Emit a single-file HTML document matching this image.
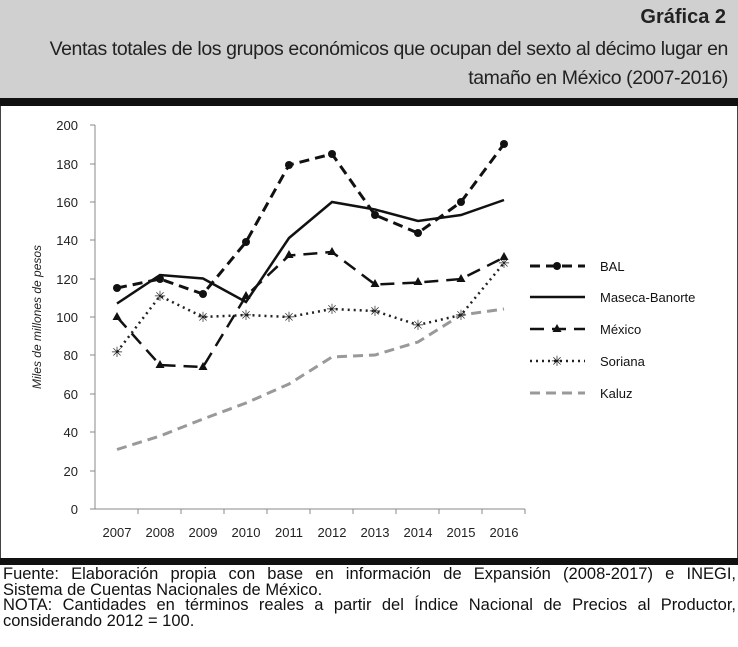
<!DOCTYPE html>
<html><head><meta charset="utf-8"><style>
body{margin:0;width:738px;height:647px;background:#fff;font-family:"Liberation Sans",sans-serif;overflow:hidden;position:relative}
.hdr{position:absolute;left:0;top:0;width:738px;height:98px;background:#d0d0d0}
.t1{position:absolute;right:12px;top:6px;font-size:20px;font-weight:bold;color:#222}
.t2{position:absolute;right:10px;top:35px;font-size:19.5px;color:#222;text-align:right;line-height:29px;letter-spacing:-0.4px;white-space:nowrap}
.bar{position:absolute;left:0;width:738px;height:8px;background:#111}
.ft{position:absolute;left:3px;top:567px;font-size:16.5px;line-height:15.5px;color:#111;width:733px}
.ft div{white-space:nowrap}
.j{text-align:justify;text-align-last:justify}
</style></head><body>
<div class="hdr"><div class="t1">Gráfica 2</div><div class="t2">Ventas totales de los grupos económicos que ocupan del sexto al décimo lugar en<br>tamaño en México (2007-2016)</div></div>
<div class="bar" style="top:98px"></div>
<div style="position:absolute;left:0;top:106px;width:736px;height:454px;border-left:1px solid #444;border-right:1px solid #444"></div>
<div class="bar" style="top:558px;height:7px"></div>
<svg style="position:absolute;left:0;top:0" width="738" height="647" font-family="Liberation Sans, sans-serif" font-size="13">
<g stroke="#888" stroke-width="1">
<line x1="95" y1="125" x2="95" y2="509"/><line x1="95" y1="509" x2="525" y2="509"/>
<line x1="90" y1="125" x2="95" y2="125"/><line x1="90" y1="164" x2="95" y2="164"/><line x1="90" y1="202" x2="95" y2="202"/><line x1="90" y1="240" x2="95" y2="240"/><line x1="90" y1="279" x2="95" y2="279"/><line x1="90" y1="317" x2="95" y2="317"/><line x1="90" y1="355" x2="95" y2="355"/><line x1="90" y1="394" x2="95" y2="394"/><line x1="90" y1="432" x2="95" y2="432"/><line x1="90" y1="471" x2="95" y2="471"/><line x1="90" y1="509" x2="95" y2="509"/>
<line x1="138" y1="509" x2="138" y2="514"/><line x1="181" y1="509" x2="181" y2="514"/><line x1="224" y1="509" x2="224" y2="514"/><line x1="267" y1="509" x2="267" y2="514"/><line x1="310" y1="509" x2="310" y2="514"/><line x1="353" y1="509" x2="353" y2="514"/><line x1="396" y1="509" x2="396" y2="514"/><line x1="439" y1="509" x2="439" y2="514"/><line x1="482" y1="509" x2="482" y2="514"/><line x1="525" y1="509" x2="525" y2="514"/>
</g>
<g text-anchor="end" fill="#222"><text x="78" y="130">200</text><text x="78" y="169">180</text><text x="78" y="207">160</text><text x="78" y="245">140</text><text x="78" y="284">120</text><text x="78" y="322">100</text><text x="78" y="360">80</text><text x="78" y="399">60</text><text x="78" y="437">40</text><text x="78" y="476">20</text><text x="78" y="514">0</text></g>
<g text-anchor="middle" fill="#222"><text x="117" y="537">2007</text><text x="160" y="537">2008</text><text x="203" y="537">2009</text><text x="246" y="537">2010</text><text x="289" y="537">2011</text><text x="332" y="537">2012</text><text x="375" y="537">2013</text><text x="418" y="537">2014</text><text x="461" y="537">2015</text><text x="504" y="537">2016</text></g>
<text transform="translate(41,317) rotate(-90)" text-anchor="middle" font-style="italic" font-size="12" fill="#222">Miles de millones de pesos</text>
<polyline fill="none" stroke="#999" stroke-width="3" stroke-dasharray="10,6" points="117,449.5 160,436 203,419 246,403 289,384 332,357 375,355 418,342 461,315 504,309"/>
<polyline fill="none" stroke="#222" stroke-width="2.5" stroke-dasharray="2,4" points="117,352 160,296 203,317 246,315 289,317 332,309 375,311 418,325 461,315 504,263"/>
<polyline fill="none" stroke="#111" stroke-width="2.5" points="117,303.5 160,275 203,278.5 246,302 289,238 332,202 375,209.5 418,221 461,215 504,200"/>
<polyline fill="none" stroke="#111" stroke-width="2.5" stroke-dasharray="14,8" points="117,317 160,365 203,367 246,296 289,255.5 332,252 375,284.5 418,282.5 461,279 504,257.5"/>
<polyline fill="none" stroke="#111" stroke-width="3" stroke-dasharray="10,6" points="117,288 160,279 203,294 246,242 289,165 332,154 375,215 418,233 461,202 504,144"/>
<g fill="#111"><circle cx="117" cy="288" r="4"/><circle cx="160" cy="279" r="4"/><circle cx="203" cy="294" r="4"/><circle cx="246" cy="242" r="4"/><circle cx="289" cy="165" r="4"/><circle cx="332" cy="154" r="4"/><circle cx="375" cy="215" r="4"/><circle cx="418" cy="233" r="4"/><circle cx="461" cy="202" r="4"/><circle cx="504" cy="144" r="4"/></g>
<g fill="#111"><path d="M117,312l4.5,8h-9z"/><path d="M160,360l4.5,8h-9z"/><path d="M203,362l4.5,8h-9z"/><path d="M246,291l4.5,8h-9z"/><path d="M289,250l4.5,8h-9z"/><path d="M332,247l4.5,8h-9z"/><path d="M375,279l4.5,8h-9z"/><path d="M418,277l4.5,8h-9z"/><path d="M461,274l4.5,8h-9z"/><path d="M504,252l4.5,8h-9z"/></g>
<g font-size="14" fill="#222" text-anchor="middle"><text x="117" y="357">✳</text><text x="160" y="301">✳</text><text x="203" y="322">✳</text><text x="246" y="320">✳</text><text x="289" y="322">✳</text><text x="332" y="314">✳</text><text x="375" y="316">✳</text><text x="418" y="330">✳</text><text x="461" y="320">✳</text><text x="504" y="268">✳</text></g>
<g fill="#111" font-size="13">
<line x1="530" y1="266" x2="585" y2="266" stroke="#111" stroke-width="3" stroke-dasharray="10,6"/><circle cx="557" cy="266" r="4"/><text x="600" y="271">BAL</text>
<line x1="530" y1="297" x2="585" y2="297" stroke="#111" stroke-width="2.5"/><text x="600" y="302">Maseca-Banorte</text>
<line x1="530" y1="329" x2="585" y2="329" stroke="#111" stroke-width="2.5" stroke-dasharray="14,8"/><path d="M557,324l4.5,8h-9z"/><text x="600" y="334">México</text>
<line x1="530" y1="361" x2="585" y2="361" stroke="#222" stroke-width="2.5" stroke-dasharray="2,4"/><text x="557" y="366" text-anchor="middle" font-size="14">✳</text><text x="600" y="366">Soriana</text>
<line x1="530" y1="393" x2="585" y2="393" stroke="#999" stroke-width="3" stroke-dasharray="10,6"/><text x="600" y="398">Kaluz</text>
</g>
</svg>
<div class="ft">
<div class="j">Fuente: Elaboración propia con base en información de Expansión (2008-2017) e INEGI,</div>
<div>Sistema de Cuentas Nacionales de México.</div>
<div class="j">NOTA: Cantidades en términos reales a partir del Índice Nacional de Precios al Productor,</div>
<div>considerando 2012 = 100.</div>
</div>
</body></html>
